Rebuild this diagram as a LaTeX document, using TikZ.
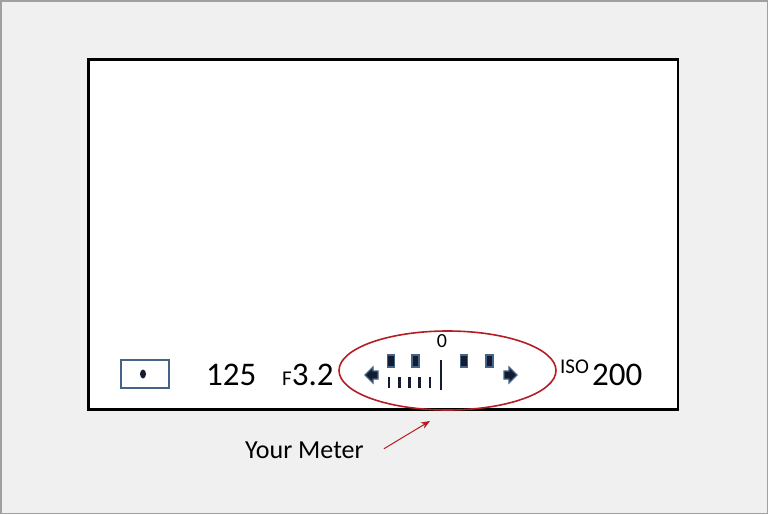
\documentclass[tikz,border=0pt]{standalone}
\usepackage{fontspec}
\setmainfont{Carlito}
\usetikzlibrary{arrows.meta,shapes.geometric}
\definecolor{pagegray}{RGB}{240,240,240}
\definecolor{edgegray}{RGB}{160,160,160}
\definecolor{meterred}{RGB}{180,30,35}
\definecolor{ledblue}{RGB}{70,100,135}
\definecolor{lednavy}{RGB}{20,28,50}
\begin{document}
\begin{tikzpicture}[x=1pt, y=-1pt, >={Stealth[length=9pt,width=7pt]},
    readout/.style={anchor=base west, inner sep=0pt, font=\fontsize{33}{40}\selectfont},
    small/.style={font=\fontsize{20}{24}\selectfont},
    led/.style={fill=lednavy, draw=ledblue, line width=1.2pt},
    tick/.style={line width=2.6pt, lednavy},
    meterring/.style={ellipse, draw=meterred, line width=1.6pt, minimum width=217pt, minimum height=79pt, inner sep=0pt}]
    \useasboundingbox (0,0) rectangle (768,514);
    \draw[edgegray, fill=pagegray, line width=1.5pt] (0.75,0.75) rectangle (767.25,513.25);
    \draw[black, fill=white, line width=2.6pt] (88.5,59.5) rectangle (678,409.5);
    \draw[ledblue, line width=1.3pt] (121,360) rectangle (169,388);
    \fill[lednavy] (143,374) ellipse [x radius=3pt, y radius=4.5pt];
    \node[readout] (shutter) at (206,385) {125};
    \node[readout] (aperture) at (282,385) {{\fontsize{21}{25}\selectfont F}3.2};
    \node[readout] (iso) at (560,385) {\raisebox{12pt}{\fontsize{21}{25}\selectfont ISO}\kern3pt200};
    \node[small, anchor=base, inner sep=0pt] (zero) at (442,347) {0};
    \foreach \x in {391,415.5,464,489.5}
        \draw[led] (\x-3.5,355) rectangle (\x+3.5,367);
    \foreach \x in {389,399.2,409.4,419.6,430}
        \draw[tick] (\x,377) -- (\x,388);
    \draw[tick, line width=2.8pt] (441,360) -- (441,390);
    \draw[led] (365,375) -- (373,367) -- (373,371) -- (378,371) -- (378,379) -- (373,379) -- (373,383) -- cycle;
    \draw[led] (517,375) -- (509,367) -- (509,371) -- (504,371) -- (504,379) -- (509,379) -- (509,383) -- cycle;
    \node[meterring] (meter) at (447.5,370.5) {};
    \node[anchor=base west, inner sep=0pt, font=\fontsize{26}{31}\selectfont] (meterlabel) at (245,458) {Your Meter};
    \coordinate (meterend) at (430,421);
    \draw[->, meterred, line width=1pt] ([xshift=20pt, yshift=1pt]meterlabel.east) -- (meterend);
\end{tikzpicture}
\end{document}
